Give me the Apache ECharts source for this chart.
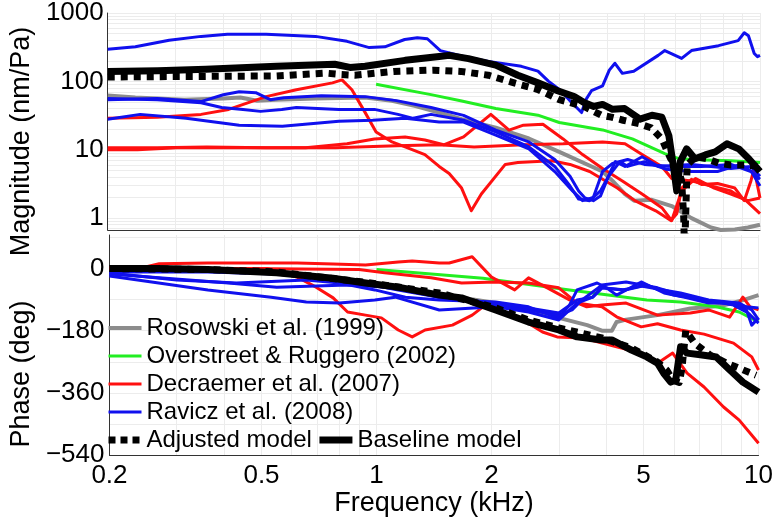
<!DOCTYPE html>
<html><head><meta charset="utf-8">
<script src="https://cdn.jsdelivr.net/npm/echarts@6/dist/echarts.min.js"></script>
<style>html,body{margin:0;padding:0;background:#fff}#c{width:776px;height:522px}</style>
</head><body><div id="c"></div>
<script>
const FONT = '"Liberation Sans", Arial, Helvetica, sans-serif';

// ---- tick labels / grid positions ----
const freqTicks = [0.2, 0.5, 1, 2, 5, 10];
const freqGrid = [0.2,0.3,0.4,0.5,0.6,0.7,0.8,0.9,1,2,3,4,5,6,7,8,9,10];
const magTicks = [1, 10, 100, 1000];
const magGrid = [0.7,0.8,0.9,1,2,3,4,5,6,7,8,9,10,20,30,40,50,60,70,80,90,100,200,300,400,500,600,700,800,900,1000];
const phaseTicks = [-540, -360, -180, 0];
const phaseGrid = [-540,-450,-360,-270,-180,-90,0,90];

// ---- legend names ----
const NAMES = ['Rosowski et al. (1999)', 'Overstreet & Ruggero (2002)', 'Decraemer et al. (2007)', 'Ravicz et al. (2008)', 'Adjusted model', 'Baseline model'];

// ---- magnitude data [kHz, nm/Pa] ----
const rosowskiMag = [[0.2,62],[0.236,58],[0.316,54],[0.4,56],[0.443,58],[0.49,52],[0.548,54],[0.695,56],[0.936,58],[1.1,52],[1.26,44],[1.46,35],[1.67,28],[2.05,21],[2.5,14.6],[3.0,9.3],[3.89,4.8],[4.13,3.5],[4.45,2.25],[4.7,1.8],[5.23,1.85],[5.89,1.5],[6.63,1.0],[7.45,0.73],[7.9,0.67],[8.6,0.68],[9.3,0.73],[10,0.8]];
const overstreetMag = [[1.0,91],[1.39,64],[1.66,52],[2.05,40],[2.64,32],[3.0,25],[3.89,19.5],[4.65,14.4],[5.65,8.8],[6.14,7.4],[7.2,7.1],[8.4,6.9],[10,6.5]];
const decraemerMagA = [[0.2,28.8],[0.269,29.8],[0.35,32.9],[0.413,38.9],[0.465,48.8],[0.517,59.8],[0.62,75.4],[0.77,95],[0.815,105],[0.865,75.4],[0.936,35.2],[1.0,18.2],[1.1,13],[1.19,11],[1.34,8.5],[1.46,5.7],[1.55,4.5],[1.67,2.75],[1.77,1.28],[1.88,2.25],[2.17,6.1],[2.34,6.5],[2.55,6.7],[2.87,6.9],[3.2,6.1],[3.6,4.8],[4.25,2.75],[4.72,1.8],[5.35,1.28],[5.86,0.92],[6.07,1.16],[6.25,2.75],[6.63,3.7],[7.04,3.1],[7.75,3.2],[8.6,2.75],[9.1,1.8],[9.47,3.5],[9.65,5.3],[10,1.97]];
const decraemerMagB = [[0.2,10.7],[0.269,10.7],[0.362,11],[0.517,10.7],[0.655,10.7],[0.84,12.2],[0.99,14.4],[1.19,15.4],[1.34,13.9],[1.5,11.8],[1.69,15.4],[1.99,32.9],[2.22,19.4],[2.42,22.9],[2.72,23.6],[3.07,14.4],[3.45,8.5],[3.89,5.3],[4.38,3.5],[4.93,2.25],[5.55,1.42],[5.89,0.92],[6.25,2.5],[6.8,3.8],[7.6,2.75],[8.4,2.25],[9.3,1.8],[10,1.97]];
const decraemerMagC = [[0.2,10],[0.239,10],[0.303,10.7],[0.517,10.7],[0.783,10.7],[1.13,11.4],[1.46,11.8],[1.8,11],[2.42,11.8],[3.07,12.2],[3.89,13],[4.45,12.2],[4.93,8.5],[5.55,5.7],[5.89,3.8],[6.63,3.5],[7.45,2.95],[8.4,2.5],[9.2,1.8],[10,1.16]];
const raviczMag1 = [[0.2,296],[0.236,320],[0.289,400],[0.35,455],[0.41,490],[0.517,490],[0.695,455],[0.84,385],[0.96,312],[1.054,320],[1.187,410],[1.28,435],[1.36,420],[1.47,282],[1.69,232],[1.96,196],[2.39,166],[2.64,141],[2.81,101],[3.03,73],[3.23,49],[3.43,35],[3.52,54],[3.64,73],[3.89,86],[4.05,146],[4.19,184],[4.38,131],[4.69,141],[5.43,240],[5.65,282],[6.25,217],[6.63,282],[7.8,333],[8.77,395],[9.1,515],[9.33,465],[9.66,256],[9.85,230],[10,240]];
const raviczMag2 = [[0.2,54],[0.269,56],[0.35,50.6],[0.4,63.8],[0.44,70.6],[0.486,68.3],[0.53,54],[0.575,57.7],[0.72,61.8],[0.936,59.8],[1.13,52.3],[1.39,41.5],[1.69,31.8],[2.05,19.4],[2.5,13],[2.92,7.2],[3.2,4.1],[3.37,2.5],[3.5,1.97],[3.68,1.8],[3.84,2.1],[4.08,4.8],[4.2,6.7],[4.45,5.7],[4.93,7.9],[5.44,5.7],[6.63,6.1],[8.4,5.3],[9.47,5.7],[10,4.1]];
const raviczMag3 = [[0.2,56],[0.269,54],[0.35,48.8],[0.396,41.5],[0.45,38.9],[0.5,36.4],[0.568,38.9],[0.62,41.5],[0.8,38.9],[0.99,38.9],[1.14,32.9],[1.25,28.8],[1.39,32.9],[1.69,27],[2.05,18.2],[2.5,11],[2.92,5.7],[3.2,2.95],[3.37,1.9],[3.6,1.8],[3.84,2.5],[4.03,4.1],[4.32,6.7],[4.52,5.7],[5.0,6.7],[5.68,5.2],[6.63,4.8],[7.75,4.8],[8.9,6.1],[9.5,4.8],[10,2.95]];
const raviczMag4 = [[0.2,27.9],[0.243,32.9],[0.32,28.8],[0.44,22.9],[0.57,22.1],[0.8,26.1],[0.98,27],[1.19,28.8],[1.46,25.4],[1.69,25.4],[2.05,16.4],[2.5,10.3],[2.92,4.8],[3.25,2.5],[3.45,1.8],[3.68,2],[3.89,4.8],[4.13,6.3],[4.52,7.2],[5.0,6.1],[5.9,5.7],[7.04,5.7],[8.4,6.1],[9.47,4.8],[10,3.7]];
const adjustedMag = [[0.2,116],[0.55,120],[0.74,132],[0.81,126],[0.88,123],[1.11,140],[1.41,146],[1.66,140],[1.96,123],[2.3,94],[2.64,76],[3.0,54],[3.48,43],[3.86,32],[4.1,30],[4.4,27],[4.84,24],[5.2,21],[5.55,14.4],[5.85,7.4],[6.07,6],[6.25,3.5],[6.33,1.0],[6.36,0.3],[6.42,0.3],[6.46,6],[6.8,7.9],[7.25,7.4],[7.85,6.3],[8.4,6],[9.1,6],[9.85,5.7],[10,5.6]];
const baselineMag = [[0.2,140],[0.27,143],[0.36,150],[0.55,166],[0.655,172],[0.78,178],[0.855,160],[0.936,166],[1.19,203],[1.46,231],[1.55,240],[1.74,215],[2.05,173],[2.34,123],[2.64,95],[2.97,73],[3.28,60],[3.48,49],[3.69,43],[3.89,46],[4.13,39],[4.44,40],[4.87,28],[5.23,32],[5.55,30],[5.79,16],[5.96,5.3],[6.07,2.5],[6.2,6.7],[6.44,10.3],[6.77,7.4],[7.2,8.4],[7.65,9.3],[8.2,12.2],[8.8,10.3],[9.35,7.4],[10,4.8]];

// ---- phase data [kHz, deg] ----
const rosowskiPh = [[0.2,0],[0.362,-4],[0.548,-10],[0.936,-45],[1.19,-62],[1.42,-72],[2.05,-100],[2.5,-120],[3.0,-143],[3.56,-164],[3.89,-180],[4.13,-180],[4.25,-155],[4.5,-148],[5.44,-135],[6.63,-116],[8.0,-108],[8.9,-95],[10,-77]];
const overstreetPh = [[1.0,-3],[1.9,-28],[3.2,-62],[5.1,-91],[6.25,-97],[7.75,-111],[8.9,-126],[10,-155]];
const decraemerPhA = [[0.2,3],[0.25,5],[0.27,14],[0.362,16],[0.52,16],[0.62,16],[0.77,13],[0.936,10],[1.14,19],[1.24,22],[1.46,16],[1.55,16],[1.78,34],[2.0,-25],[2.3,-62],[2.5,-27],[2.8,-56],[3.2,-91],[3.55,-111],[3.89,-106],[4.5,-100],[5.44,-135],[6.63,-129],[7.4,-120],[8.4,-141],[9.1,-83],[9.5,-111],[10,-120]];
const decraemerPhB = [[0.2,0],[0.362,0],[0.517,0],[0.62,-25],[0.695,-54],[0.77,-85],[0.84,-126],[0.936,-135],[1.03,-143],[1.14,-178],[1.24,-198],[1.34,-178],[1.58,-164],[1.78,-135],[1.9,-111],[2.1,-120],[2.42,-149],[2.72,-184],[2.97,-198],[3.45,-201],[4.25,-227],[4.93,-245],[5.44,-274],[5.96,-245],[6.5,-303],[7.2,-343],[8.1,-401],[8.9,-439],[10,-506]];
const decraemerPhC = [[0.2,0],[0.45,0],[0.9,-3],[1.05,-12],[1.39,-27],[1.67,-42],[2.05,-39],[2.5,-42],[3.0,-56],[3.35,-100],[3.89,-111],[4.25,-140],[4.93,-169],[5.44,-160],[6.25,-178],[7.2,-190],[8.6,-216],[9.6,-256],[10,-294]];
const raviczPh1 = [[0.2,-13],[0.3,-33],[0.43,-42],[0.655,-33],[0.8,-42],[0.99,-62],[1.19,-83],[1.46,-91],[2.05,-97],[2.5,-111],[2.85,-135],[3.0,-143],[3.2,-106],[3.35,-62],[3.78,-42],[4.0,-56],[4.25,-77],[4.93,-39],[5.66,-71],[6.5,-85],[7.4,-100],[8.6,-100],[9.3,-120],[9.6,-164],[10,-143]];
const raviczPh2 = [[0.2,-22],[0.362,-62],[0.53,-83],[0.655,-97],[0.8,-100],[0.99,-91],[1.12,-83],[1.46,-120],[2.05,-111],[2.5,-126],[3.0,-149],[3.35,-100],[3.68,-83],[3.89,-56],[4.5,-62],[5.1,-48],[6.0,-77],[7.3,-91],[8.6,-106],[9.4,-129],[10,-158]];
const raviczPh3 = [[0.2,-10],[0.362,-10],[0.548,-16],[0.8,-30],[1.14,-62],[1.46,-83],[2.05,-106],[2.5,-120],[3.0,-135],[3.25,-120],[3.45,-91],[3.89,-48],[4.5,-39],[5.44,-56],[6.63,-85],[8.1,-100],[9.3,-111],[10,-114]];
const raviczPh4 = [[0.2,-16],[0.41,-42],[0.548,-54],[0.84,-48],[1.14,-56],[1.46,-83],[2.05,-100],[2.5,-114],[3.0,-129],[3.35,-91],[3.68,-83],[3.89,-56],[4.4,-62],[4.93,-51],[6.25,-71],[7.4,-91],[8.9,-100],[9.6,-120],[10,-149]];
const adjustedPh = [[0.2,0],[0.362,-3],[0.548,-10],[0.936,-40],[1.46,-71],[2.05,-114],[2.5,-149],[3.0,-172],[3.89,-201],[4.65,-230],[5.44,-271],[5.75,-294],[5.96,-323],[6.2,-330],[6.3,-290],[6.45,-180],[6.8,-216],[7.45,-250],[8.25,-274],[9.85,-309]];
const baselinePh = [[0.2,0],[0.269,0],[0.362,-3],[0.548,-12],[0.769,-28],[0.936,-42],[1.14,-54],[1.46,-77],[1.67,-85],[2.05,-120],[2.5,-155],[3.0,-178],[3.35,-198],[3.89,-207],[4.13,-207],[4.65,-236],[5.1,-256],[5.44,-274],[5.66,-305],[5.89,-329],[6.07,-323],[6.25,-227],[6.5,-245],[7.04,-250],[7.75,-256],[8.41,-294],[9.1,-329],[10,-358]];

// ---- styles ----
const GRAY = '#8c8c8c', GREEN = '#22ee22', RED = '#ff1010', BLUE = '#1010ee', BLACK = '#000000';
const DOT = [7, 6];

function ln(name, data, color, width, panel, dash) {
  return {
    type: 'line', name: name, data: data,
    xAxisIndex: panel, yAxisIndex: panel,
    symbol: 'none', showSymbol: false, animation: false, silent: true,
    lineStyle: { color: color, width: width, type: dash || 'solid', cap: 'butt', join: 'round' },
    itemStyle: { color: color },
    emphasis: { disabled: true }
  };
}

const series = [];
[0, 1].forEach(function (p) {
  const M = p === 0;
  series.push(ln(NAMES[0], M ? rosowskiMag : rosowskiPh, GRAY, 4, p));
  series.push(ln(NAMES[1], M ? overstreetMag : overstreetPh, GREEN, 3, p));
  (M ? [decraemerMagA, decraemerMagB, decraemerMagC] : [decraemerPhA, decraemerPhB, decraemerPhC])
    .forEach(function (d) { series.push(ln(NAMES[2], d, RED, 3, p)); });
  (M ? [raviczMag1, raviczMag2, raviczMag3, raviczMag4] : [raviczPh1, raviczPh2, raviczPh3, raviczPh4])
    .forEach(function (d) { series.push(ln(NAMES[3], d, BLUE, 3, p)); });
  series.push(ln(NAMES[4], M ? adjustedMag : adjustedPh, BLACK, 7, p, DOT));
  series.push(ln(NAMES[5], M ? baselineMag : baselinePh, BLACK, 7, p));
});

const legendStyles = [
  { color: GRAY, width: 4 }, { color: GREEN, width: 3 }, { color: RED, width: 3 },
  { color: BLUE, width: 3 }, { color: BLACK, width: 7, type: [7, 5] }, { color: BLACK, width: 7 }
];

const axisText = { fontSize: 26, color: '#000', fontFamily: FONT };
const nameText = { fontSize: 27, color: '#000', fontFamily: FONT };
const gridLine = { show: true, lineStyle: { color: '#ececec', width: 1 } };
const axLine = { show: true, onZero: false, lineStyle: { color: '#333', width: 1 } };
const minus = function (v) { return v < 0 ? '\u2212' + Math.abs(v) : String(v); };

const option = {
  animation: false,
  backgroundColor: '#ffffff',
  textStyle: { fontFamily: FONT },
  grid: [
    { left: 100, top: 8, width: 660, height: 222 },
    { left: 100, top: 235, width: 660, height: 220 }
  ],
  legend: {
    left: 105, top: 316, width: 440, padding: 0,
    orient: 'horizontal', selectedMode: false,
    itemWidth: 33, itemHeight: 14, itemGap: 4,
    textStyle: { fontSize: 24, color: '#000', fontFamily: FONT, padding: [0, 8, 0, 0] },
    data: NAMES.map(function (n, i) {
      return { name: n, itemStyle: { opacity: 0 }, lineStyle: legendStyles[i] };
    })
  },
  xAxis: [
    { type: 'log', logBase: 10, min: 0.2, max: 10, gridIndex: 0,
      axisLine: axLine, axisTick: { show: false, customValues: freqGrid },
      axisLabel: { show: false }, splitLine: gridLine },
    { type: 'log', logBase: 10, min: 0.2, max: 10, gridIndex: 1,
      axisLine: axLine, axisTick: { show: false, customValues: freqGrid },
      axisLabel: Object.assign({ show: true, customValues: freqTicks, margin: 8,
        formatter: function (v) { return String(+(+v).toPrecision(3)); } }, axisText),
      splitLine: gridLine,
      name: 'Frequency (kHz)', nameLocation: 'middle', nameGap: 29, nameTextStyle: nameText }
  ],
  yAxis: [
    { type: 'log', logBase: 10, min: 0.67, max: 1000, gridIndex: 0,
      axisLine: axLine, axisTick: { show: false, customValues: magGrid },
      axisLabel: Object.assign({ show: true, customValues: magTicks, margin: 4,
        formatter: function (v) { return String(Math.round(v)); } }, axisText),
      splitLine: gridLine,
      name: 'Magnitude (nm/Pa)', nameLocation: 'middle', nameGap: 72,
      nameTextStyle: Object.assign({ padding: [0, 40, 0, 0] }, nameText) },
    { type: 'value', min: -540, max: 97, gridIndex: 1,
      axisLine: axLine, axisTick: { show: false, customValues: phaseGrid },
      axisLabel: Object.assign({ show: true, customValues: phaseTicks, margin: 5, formatter: minus }, axisText),
      splitLine: gridLine,
      name: 'Phase (deg)', nameLocation: 'middle', nameGap: 72,
      nameTextStyle: Object.assign({ padding: [0, 58, 0, 0] }, nameText) }
  ],
  series: series
};

const chart = echarts.init(document.getElementById('c'), null, { renderer: 'canvas', width: 776, height: 522 });
chart.setOption(option);
</script>
</body></html>
